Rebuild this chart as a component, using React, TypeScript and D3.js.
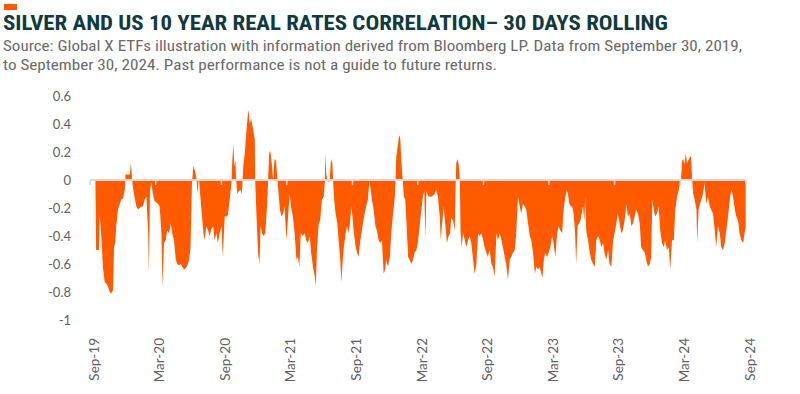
import React, { useEffect, useRef } from 'react';
import * as d3 from 'd3';

// days since 30 Sep 2019, 30-day rolling correlation
const startDate = new Date(2019, 8, 30);
const endDate = new Date(2024, 8, 30);

const part1 = [
  [0, 0], [15, 0], [17, -0.5], [25, -0.5], [27, -0.25], [31, -0.38], [36, -0.62], [41, -0.73], [45, -0.74],
  [50, -0.76], [55, -0.8], [59, -0.81], [64, -0.79], [67, -0.48], [70, -0.45], [73, -0.33], [78, -0.21],
  [83, -0.17], [87, -0.14], [92, -0.13], [97, -0.07], [99, 0.04], [104, 0.04], [111, 0.04], [114, 0.12],
  [118, -0.02], [120, -0.06], [124, -0.12], [129, -0.19], [134, -0.21], [138, -0.2], [143, -0.19],
  [148, -0.19], [152, -0.14], [157, -0.12], [162, -0.38], [164, -0.67], [167, -0.07], [171, -0.02],
  [175, -0.1], [180, -0.15], [189, -0.17], [194, -0.19], [199, -0.38], [202, -0.77], [206, -0.45],
  [211, -0.43], [215, -0.36], [220, -0.38], [225, -0.31], [229, -0.38], [234, -0.43], [239, -0.57],
  [243, -0.6], [248, -0.61], [253, -0.6], [257, -0.62], [262, -0.64], [267, -0.63], [271, -0.61],
  [276, -0.57], [280, -0.48], [284, -0.02], [288, 0.1], [293, 0.06], [297, 0], [299, -0.1], [303, 0.02],
];

const part2 = [
  [306, -0.08], [308, -0.14], [312, -0.26], [316, -0.38], [319, -0.43], [324, -0.33], [329, -0.36],
  [333, -0.4], [338, -0.35], [343, -0.33], [347, -0.43], [352, -0.38], [356, -0.45], [361, -0.38],
  [366, -0.33], [370, -0.55], [375, -0.26], [380, -0.26], [384, -0.25], [389, -0.14], [394, -0.02],
  [396, 0.12], [399, 0.26], [402, 0.1], [405, 0.14], [407, 0], [410, -0.1], [414, -0.08], [419, -0.07],
  [423, -0.1], [427, 0.1], [431, 0.19], [435, 0.33], [439, 0.45], [442, 0.5], [445, 0.4], [449, 0.44],
  [454, 0.36], [459, 0.29], [460, 0], [463, -0.21], [468, -0.52], [472, -0.6], [475, -0.33], [479, -0.38],
  [484, -0.4], [488, -0.38], [493, -0.19], [496, 0], [499, 0.19], [502, 0.21], [507, 0.1], [510, 0],
  [514, 0.15], [518, 0.14], [522, 0], [526, -0.12], [529, -0.21], [533, -0.26], [538, -0.24], [542, -0.19],
  [547, -0.43], [551, -0.29], [556, -0.1], [561, -0.21], [565, -0.26], [570, -0.38], [575, -0.57],
  [579, -0.55], [583, -0.62], [587, -0.38], [593, -0.4], [598, -0.38], [602, -0.43], [607, -0.45], [612, -0.4],
];

const part3 = [
  [616, -0.52], [621, -0.62], [626, -0.69], [629, -0.76], [632, -0.5], [637, -0.31], [641, -0.29],
  [646, -0.14], [651, -0.12], [654, -0.02], [655, 0.19], [658, 0.04], [663, -0.02], [668, 0.01], [671, 0.15],
  [675, 0.12], [677, 0], [680, -0.14], [684, -0.24], [689, -0.31], [693, -0.45], [697, -0.57], [700, -0.73],
  [704, -0.57], [707, -0.48], [712, -0.38], [716, -0.33], [719, -0.38], [723, -0.33], [728, -0.19],
  [732, -0.29], [735, -0.38], [740, -0.48], [744, -0.52], [748, -0.55], [752, -0.45], [756, -0.38],
  [760, -0.31], [765, -0.24], [769, -0.19], [774, -0.14], [778, -0.01], [782, -0.07], [785, -0.14],
  [790, -0.21], [795, -0.33], [799, -0.36], [804, -0.43], [808, -0.45], [813, -0.43], [818, -0.67],
  [822, -0.64], [825, -0.57], [830, -0.62], [835, -0.55], [839, -0.38], [844, -0.24], [849, -0.12],
  [851, 0], [853, 0.17], [857, 0.24], [861, 0.32], [864, 0.3], [868, 0.1], [871, 0], [874, -0.12],
  [878, -0.14], [882, -0.33], [886, -0.55], [890, -0.57], [895, -0.6], [900, -0.57], [904, -0.52],
  [909, -0.5], [913, -0.45],
];

const part4 = [
  [918, -0.33], [923, -0.21], [927, -0.12], [931, -0.08], [934, -0.42], [937, -0.08], [941, -0.11],
  [946, -0.12], [951, -0.12], [955, -0.11], [960, -0.1], [964, -0.07], [969, -0.12], [974, -0.26],
  [977, -0.43], [980, -0.33], [985, -0.19], [990, -0.33], [994, -0.45], [999, -0.4], [1003, -0.38],
  [1006, -0.27], [1011, -0.29], [1016, -0.36], [1018, -0.07], [1020, 0.12], [1023, 0.15], [1027, 0.11],
  [1030, 0], [1032, -0.36], [1035, -0.48], [1039, -0.38], [1044, -0.43], [1048, -0.48], [1053, -0.43],
  [1057, -0.4], [1062, -0.45], [1067, -0.57], [1071, -0.67], [1076, -0.6], [1081, -0.38], [1085, -0.4],
  [1090, -0.38], [1095, -0.43], [1099, -0.48], [1104, -0.52], [1108, -0.55], [1113, -0.5], [1118, -0.6],
  [1122, -0.62], [1127, -0.69], [1132, -0.38], [1136, -0.43], [1141, -0.38], [1146, -0.43], [1150, -0.48],
  [1155, -0.55], [1159, -0.6], [1164, -0.71], [1169, -0.57], [1173, -0.55], [1178, -0.52], [1183, -0.5],
  [1187, -0.38], [1192, -0.12], [1197, -0.19], [1201, -0.24], [1206, -0.17], [1211, -0.19], [1215, -0.21],
  [1220, -0.31], [1225, -0.4],
];

const part5 = [
  [1229, -0.43], [1234, -0.52], [1239, -0.67], [1243, -0.62], [1248, -0.64], [1252, -0.62], [1257, -0.67],
  [1260, -0.7], [1264, -0.57], [1268, -0.52], [1273, -0.55], [1277, -0.52], [1282, -0.48], [1287, -0.4],
  [1291, -0.45], [1296, -0.55], [1301, -0.38], [1305, -0.33], [1310, -0.36], [1315, -0.38], [1319, -0.21],
  [1324, -0.12], [1328, -0.07], [1331, -0.1], [1335, -0.17], [1339, -0.19], [1343, -0.19], [1347, -0.24],
  [1351, -0.38], [1354, -0.6], [1358, -0.33], [1362, -0.31], [1366, -0.29], [1369, -0.24], [1373, -0.19],
  [1377, -0.29], [1379, -0.12], [1382, -0.36], [1387, -0.43], [1392, -0.52], [1396, -0.57], [1401, -0.6],
  [1406, -0.62], [1410, -0.43], [1415, -0.4], [1420, -0.43], [1424, -0.48], [1429, -0.45], [1433, -0.52],
  [1438, -0.57], [1443, -0.5], [1447, -0.6], [1452, -0.62], [1457, -0.43], [1461, -0.38], [1466, -0.31],
  [1470, -0.24], [1475, -0.31], [1480, -0.38], [1484, -0.36], [1489, -0.29], [1494, -0.17], [1498, -0.26],
  [1503, -0.24], [1508, -0.33], [1512, -0.31], [1517, -0.26], [1521, -0.21], [1526, -0.24], [1531, -0.31],
];

const part6 = [
  [1535, -0.48], [1540, -0.5], [1545, -0.52], [1549, -0.57], [1554, -0.62], [1559, -0.6], [1563, -0.55],
  [1566, -0.14], [1570, -0.21], [1574, -0.26], [1579, -0.24], [1584, -0.19], [1588, -0.36], [1593, -0.45],
  [1598, -0.48], [1602, -0.43], [1607, -0.5], [1612, -0.48], [1616, -0.64], [1621, -0.43], [1626, -0.43],
  [1630, -0.21], [1635, -0.12], [1640, -0.07], [1643, -0.02], [1646, 0], [1649, 0.14], [1652, 0.15],
  [1656, 0.11], [1659, 0.19], [1663, 0.12], [1666, 0.14], [1670, 0.16], [1674, 0.17], [1677, 0],
  [1680, -0.1], [1684, -0.14], [1689, -0.21], [1691, -0.45], [1695, -0.21], [1699, -0.17], [1703, -0.14],
  [1707, -0.1], [1712, -0.02], [1716, -0.17], [1721, -0.12], [1726, -0.19], [1730, -0.21], [1735, -0.24],
  [1740, -0.36], [1744, -0.48], [1749, -0.33], [1754, -0.38], [1758, -0.48], [1763, -0.5], [1768, -0.45],
  [1772, -0.36], [1777, -0.26], [1782, -0.14], [1786, -0.07], [1791, -0.12], [1796, -0.21], [1800, -0.26],
  [1805, -0.29], [1809, -0.38], [1814, -0.43], [1819, -0.45], [1823, -0.38], [1826, -0.34],
];

const yTicks = [0.6, 0.4, 0.2, 0, -0.2, -0.4, -0.6, -0.8, -1];
const xTickDates = ['2019-09-30', '2020-03-31', '2020-09-30', '2021-03-31', '2021-09-30', '2022-03-31',
  '2022-09-30', '2023-03-31', '2023-09-30', '2024-03-31', '2024-09-30'];
const xTickLabels = ['Sep-19', 'Mar-20', 'Sep-20', 'Mar-21', 'Sep-21', 'Mar-22', 'Sep-22', 'Mar-23',
  'Sep-23', 'Mar-24', 'Sep-24'];

const title = 'SILVER AND US 10 YEAR REAL RATES CORRELATION\u2013 30 DAYS ROLLING';
const source1 = 'Source: Global X ETFs illustration with information derived from Bloomberg LP. Data from September 30, 2019,';
const source2 = 'to September 30, 2024. Past performance is not a guide to future returns.';

const ORANGE = '#ff5a00';

const App = () => {
  const ref = useRef<SVGSVGElement | null>(null);

  useEffect(() => {
    const svg = d3.select(ref.current);
    svg.selectAll('*').remove();

    const series = [...part1, ...part2, ...part3, ...part4, ...part5, ...part6].map(([d, v]) => ({
      date: d3.timeDay.offset(startDate, d),
      value: v,
    }));

    const x = d3.scaleTime().domain([startDate, endDate]).range([90, 746]);
    const y = d3.scaleLinear().domain([-1, 0.6]).range([320, 96]);

    const narrow = "'Liberation Sans Narrow', 'Roboto Condensed', Roboto, sans-serif";
    const labelFont = "Lato, 'Open Sans', sans-serif";

    // header
    svg.append('rect').attr('x', 4).attr('y', 4).attr('width', 13).attr('height', 6).attr('fill', ORANGE);
    svg.append('text')
      .attr('x', 3).attr('y', 30)
      .attr('font-family', narrow).attr('font-weight', 700).attr('font-size', 21)
      .attr('fill', '#0f3a3e')
      .attr('textLength', 665).attr('lengthAdjust', 'spacingAndGlyphs')
      .text(title);
    [source1, source2].forEach((s, i) => {
      svg.append('text')
        .attr('x', 3).attr('y', 51 + i * 19)
        .attr('font-family', narrow).attr('font-size', 15.5)
        .attr('fill', '#6a6a6a')
        .attr('textLength', i === 0 ? 739 : 494).attr('lengthAdjust', 'spacingAndGlyphs')
        .text(s);
    });

    // area
    const area = d3.area<{ date: Date; value: number }>()
      .x((d) => x(d.date))
      .y0(y(0))
      .y1((d) => y(d.value));
    svg.append('path').datum(series).attr('d', area).attr('fill', ORANGE);

    // zero axis line with ticks
    svg.append('line')
      .attr('x1', x(startDate)).attr('x2', x(endDate))
      .attr('y1', y(0)).attr('y2', y(0))
      .attr('stroke', '#d9d9d9').attr('stroke-width', 2);
    const tickDates = xTickDates.map((s) => d3.timeParse('%Y-%m-%d')(s) as Date);
    svg.append('g').selectAll('line').data(tickDates).enter().append('line')
      .attr('x1', (d) => x(d)).attr('x2', (d) => x(d))
      .attr('y1', y(0)).attr('y2', y(0) + 5)
      .attr('stroke', '#d9d9d9').attr('stroke-width', 1.5);

    // y labels
    svg.append('g').selectAll('text').data(yTicks).enter().append('text')
      .attr('x', 71).attr('y', (d) => y(d)).attr('dy', '0.35em')
      .attr('text-anchor', 'end')
      .attr('font-family', labelFont).attr('font-size', 13)
      .attr('fill', '#606060')
      .text((d) => String(d));

    // x labels
    svg.append('g').selectAll('text').data(tickDates).enter().append('text')
      .attr('transform', (d) => `translate(${x(d) + 4},338) rotate(-90)`)
      .attr('dy', '0.35em')
      .attr('text-anchor', 'end')
      .attr('font-family', labelFont).attr('font-size', 13.5)
      .attr('fill', '#606060')
      .text((d, i) => xTickLabels[i]);
  }, []);

  return (
    <div style={{ position: 'absolute', left: 0, top: 0 }}>
      <svg ref={ref} width={800} height={394} style={{ display: 'block', background: '#fff' }} />
    </div>
  );
};

export default App;
